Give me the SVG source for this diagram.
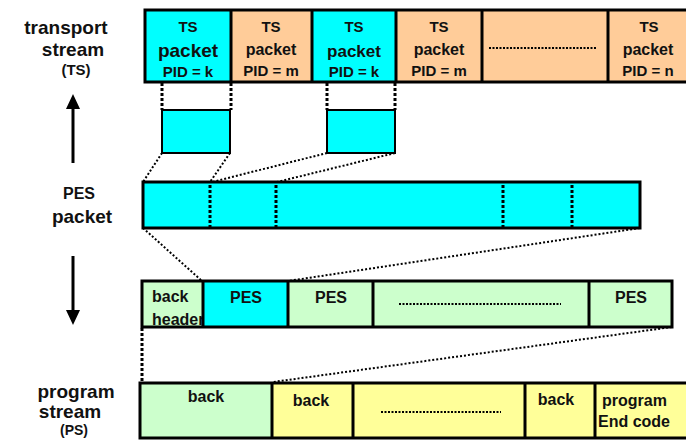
<svg xmlns="http://www.w3.org/2000/svg" width="686" height="440" viewBox="0 0 686 440">
<style>
text{font-family:"Liberation Sans",Arial,sans-serif;font-weight:bold;fill:#111;}
.c{text-anchor:middle;}
.box{stroke:#000;stroke-width:3;}
.div{stroke:#000;stroke-width:3;}
.cy{fill:#00FFFF;}
.or{fill:#FFCC99;}
.gr{fill:#CCFFCC;}
.ye{fill:#FFFF99;}
.dv{stroke:#000;stroke-width:3;stroke-dasharray:3 2;fill:none;}
.dd{stroke:#000;stroke-width:2;stroke-dasharray:2 2;fill:none;}
.fill{stroke:#000;stroke-width:2;stroke-dasharray:2 1.5;fill:none;}
</style>
<rect width="686" height="440" fill="#fff"/>

<g id="labels">
<text class="c" x="66" y="34" font-size="19">transport</text>
<text class="c" x="73" y="56" font-size="19">stream</text>
<text class="c" x="76" y="75" font-size="15">(TS)</text>
<text class="c" x="79" y="199" font-size="16">PES</text>
<text class="c" x="82" y="223" font-size="19">packet</text>
<text class="c" x="76" y="398" font-size="19">program</text>
<text class="c" x="70" y="418" font-size="19">stream</text>
<text class="c" x="74" y="435" font-size="14">(PS)</text>
</g>

<g id="arrows">
<line x1="73" y1="163" x2="73" y2="106" stroke="#000" stroke-width="3"/>
<polygon points="73,94 66,109 80,109" fill="#000"/>
<line x1="73" y1="256" x2="73" y2="313" stroke="#000" stroke-width="3"/>
<polygon points="66,310 80,310 73,325" fill="#000"/>
</g>

<g id="ts-stream">
<rect class="cy" x="145" y="10" width="86" height="72"/>
<rect class="or" x="231" y="10" width="81" height="72"/>
<rect class="cy" x="312" y="10" width="84" height="72"/>
<rect class="or" x="396" y="10" width="86" height="72"/>
<rect class="or" x="482" y="10" width="126" height="72"/>
<rect class="or" x="608" y="10" width="80" height="72"/>
<path class="div" d="M231,10V82M312,10V82M396,10V82M482,10V82M608,10V82"/>
<path class="box" fill="none" d="M690,10H145V82H690"/>
<text class="c" x="188" y="32" font-size="15">TS</text>
<text class="c" x="188" y="57" font-size="19">packet</text>
<text class="c" x="188" y="77" font-size="15">PID = k</text>
<text class="c" x="271" y="32" font-size="15">TS</text>
<text class="c" x="271" y="55" font-size="16">packet</text>
<text class="c" x="271" y="76" font-size="15">PID = m</text>
<text class="c" x="354" y="32" font-size="15">TS</text>
<text class="c" x="354" y="57" font-size="17">packet</text>
<text class="c" x="354" y="77" font-size="15">PID = k</text>
<text class="c" x="439" y="32" font-size="15">TS</text>
<text class="c" x="439" y="55" font-size="16">packet</text>
<text class="c" x="439" y="76" font-size="15">PID = m</text>
<line class="fill" x1="489" y1="48" x2="597" y2="48"/>
<text class="c" x="649" y="32" font-size="15">TS</text>
<text class="c" x="648" y="55" font-size="16">packet</text>
<text class="c" x="648" y="76" font-size="15">PID = n</text>
</g>

<g id="ts-payload-1">
<rect class="cy" x="162" y="110" width="68" height="43" stroke="#000" stroke-width="2"/>
</g>
<g id="ts-payload-2">
<rect class="cy" x="327" y="110" width="68" height="43" stroke="#000" stroke-width="2"/>
</g>

<g id="pes-packet">
<rect class="cy box" x="143" y="182" width="497" height="46"/>
<path class="dv" d="M210,185V228M276,185V228M503,185V228M572,185V228"/>
</g>

<g id="pack">
<rect class="gr" x="142" y="281" width="61" height="46"/>
<rect class="cy" x="203" y="281" width="85" height="46"/>
<rect class="gr" x="288" y="281" width="85" height="46"/>
<rect class="gr" x="373" y="281" width="216" height="46"/>
<rect class="gr" x="589" y="281" width="83" height="46"/>
<text x="152" y="302" font-size="16">back</text>
<svg x="142" y="281" width="61" height="46" overflow="hidden"><text x="10" y="44" font-size="16">header</text></svg>
<text class="c" x="246" y="303" font-size="16">PES</text>
<text class="c" x="331" y="303" font-size="16">PES</text>
<line class="fill" x1="399" y1="304" x2="561" y2="304"/>
<text class="c" x="631" y="303" font-size="16">PES</text>
<path class="div" d="M203,281V327M288,281V327M373,281V327M589,281V327"/>
<rect class="box" fill="none" x="142" y="281" width="530" height="46"/>
</g>

<g id="program-stream">
<rect class="gr" x="140" y="383" width="132" height="55"/>
<rect class="ye" x="272" y="383" width="81" height="55"/>
<rect class="ye" x="353" y="383" width="172" height="55"/>
<rect class="ye" x="525" y="383" width="70" height="55"/>
<rect class="ye" x="595" y="383" width="95" height="55"/>
<path class="div" d="M272,383V438M353,383V438M525,383V438M595,383V438"/>
<path class="box" fill="none" d="M690,383H140V438H690"/>
<text class="c" x="206" y="402" font-size="16">back</text>
<text class="c" x="311" y="406" font-size="16">back</text>
<line class="fill" x1="381" y1="412" x2="501" y2="412"/>
<text class="c" x="556" y="405" font-size="16">back</text>
<text x="602" y="406" font-size="16">program</text>
<text x="598" y="427" font-size="16">End code</text>
</g>

<g id="connectors">
<path class="dv" d="M162,83V110M231,83V110M327,83V110M395,83V110"/>
<path class="dd" d="M162,153L143,182M230,153L210,182M327,153L212,182M395,153L277,182"/>
<path class="dd" d="M143,228L202,281M640,228L288,281"/>
<path class="dv" d="M142,328V382"/>
<path class="dd" d="M672,327L273,382"/>
</g>
</svg>
